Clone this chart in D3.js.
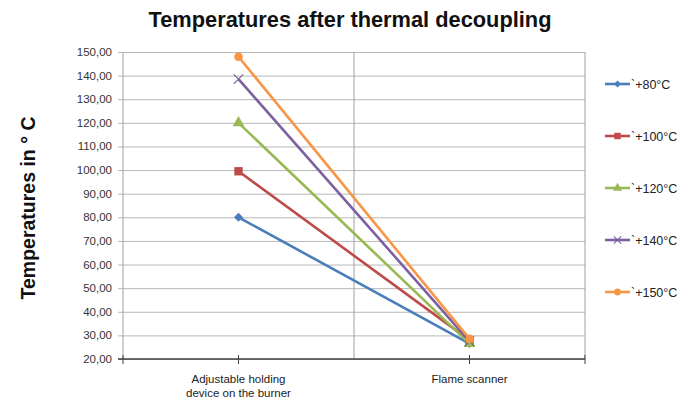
<!DOCTYPE html>
<html><head><meta charset="utf-8">
<script src="https://cdn.jsdelivr.net/npm/d3@7"></script>
<style>body{margin:0;background:#fff}svg{display:block;font-family:Arial,"Liberation Sans",sans-serif}</style>
</head><body><svg id="c" width="694" height="403"></svg>
<script>
const categories = ["Adjustable holding\ndevice on the burner", "Flame scanner"];
const seriesNames = ["`+80°C", "`+100°C", "`+120°C", "`+140°C", "`+150°C"];
const s80 = [80, 26.5];
const s100 = [99.5, 28];
const s120 = [120, 26.5];
const s140 = [138.5, 27.5];
const s150 = [148, 28.5];
const yTicks = [20,30,40,50,60,70,80,90,100,110,120,130,140,150];
const colors = ["#4A7EBB", "#BE4B48", "#98B954", "#7D60A0", "#F79646"];
const symbols = [d3.symbolSquare, d3.symbolSquare, d3.symbolTriangle, d3.symbolX, d3.symbolCircle];
const symRot = [45, 0, 0, 0, 0];
const symSizes = [40, 70, 60, 60, 60];
const series = [s80, s100, s120, s140, s150];

const svg = d3.select("#c");
const L = 123, R = 585, T = 52, B = 359;
const x = d3.scaleBand().domain(categories).range([L, R]);
const y = d3.scaleLinear().domain([20, 150]).range([B, T]);

// title
svg.append("text").attr("x", 350).attr("y", 27).attr("text-anchor", "middle")
  .style("font-size", "21.8px").attr("font-weight", "bold").attr("fill", "#111")
  .text("Temperatures after thermal decoupling");
// y title
svg.append("text").attr("transform", "translate(35,208) rotate(-90)").attr("text-anchor", "middle")
  .style("font-size", "19.5px").attr("font-weight", "bold").attr("fill", "#111")
  .text("Temperatures in ° C");

// gridlines
const yAxis = d3.axisLeft(y).tickValues(yTicks).tickSize(-(R - L)).tickFormat("");
const ga = svg.append("g").attr("transform", `translate(${L},0)`).call(yAxis);
ga.select(".domain").remove();
ga.selectAll(".tick line").attr("stroke", "#b8b8b8").attr("x1", -5);
const fmt = d => d3.format(".2f")(d).replace(".", ",");
svg.append("g").selectAll("text").data(yTicks).join("text")
  .attr("x", 112).attr("y", d => y(d) + 4).attr("text-anchor", "end")
  .style("font-size", "11.5px").attr("fill", "#333").text(fmt);
// left axis line
svg.append("line").attr("x1", L).attr("x2", L).attr("y1", T).attr("y2", B).attr("stroke", "#a0a0a0");
// right border & middle separator
svg.append("line").attr("x1", R).attr("x2", R).attr("y1", T).attr("y2", B).attr("stroke", "#a0a0a0");
svg.append("line").attr("x1", x(categories[1])).attr("x2", x(categories[1])).attr("y1", T).attr("y2", B).attr("stroke", "#a0a0a0");

// bottom axis
svg.append("line").attr("x1", L - 5).attr("x2", R).attr("y1", B).attr("y2", B).attr("stroke", "#404040").attr("stroke-width", 1.3);
const xt = [L, ...categories.map(c => x(c) + x.bandwidth() / 2), R];
svg.selectAll(".xt").data(xt).join("line").attr("x1", d => d).attr("x2", d => d)
  .attr("y1", B - 4).attr("y2", B + 5).attr("stroke", "#404040");
categories.forEach(c => {
  const lines = c.split("\n");
  const t = svg.append("text").attr("text-anchor", "middle").style("font-size", "11.5px").attr("fill", "#222");
  lines.forEach((ln, i) => t.append("tspan").attr("x", x(c) + x.bandwidth() / 2).attr("y", 383 + i * 14).text(ln));
});

// lines
const cx = c => x(c) + x.bandwidth() / 2;
const line = d3.line().x((d, i) => cx(categories[i])).y(d => y(d));
series.forEach((s, k) => {
  svg.append("path").datum(s).attr("d", line).attr("fill", "none").attr("stroke", colors[k]).attr("stroke-width", 2.6);
});
series.forEach((s, k) => {
  s.forEach((v, i) => {
    const p = svg.append("path").attr("d", d3.symbol(symbols[k], symSizes[k])())
      .attr("transform", `translate(${cx(categories[i])},${y(v)}) rotate(${symRot[k]})`);
    if (k === 3) p.attr("fill", "none").attr("stroke", colors[k]).attr("stroke-width", 1.2);
    else p.attr("fill", colors[k]);
  });
});

// legend
const ly = [84, 136, 188, 240, 292];
seriesNames.forEach((n, k) => {
  const g = svg.append("g").attr("transform", `translate(605,${ly[k]})`);
  g.append("line").attr("x1", 0).attr("x2", 25).attr("stroke", colors[k]).attr("stroke-width", 2.6);
  const p = g.append("path").attr("d", d3.symbol(symbols[k], symSizes[k] * 0.6)()).attr("transform", `translate(12.5,0) rotate(${symRot[k]})`);
  if (k === 3) p.attr("fill", "none").attr("stroke", colors[k]).attr("stroke-width", 1.1);
  else p.attr("fill", colors[k]);
  g.append("text").attr("x", 26).attr("y", 4.5).style("font-size", "12.5px").attr("fill", "#222").text(n);
});
</script></body></html>
